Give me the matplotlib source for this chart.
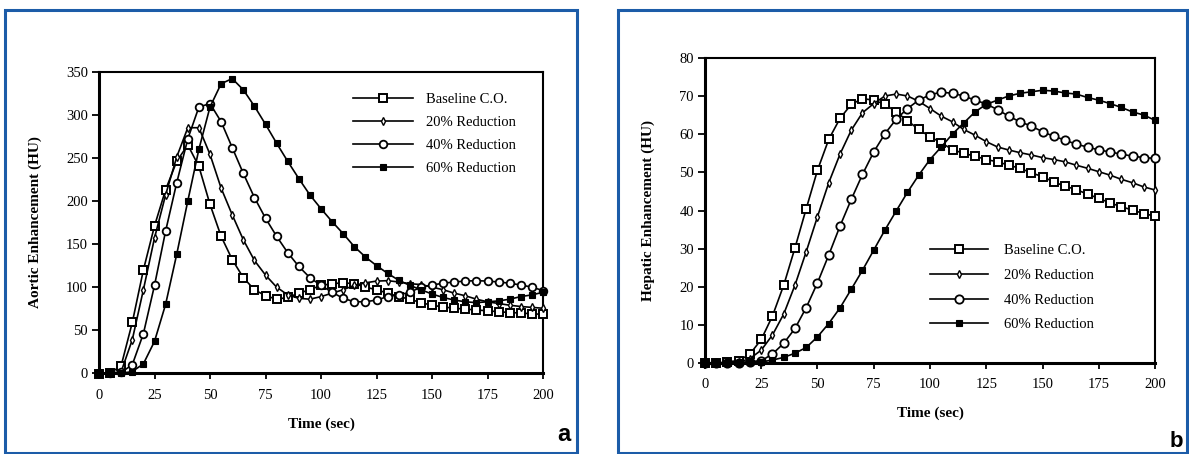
import matplotlib
matplotlib.use("Agg")
import matplotlib.pyplot as plt
from matplotlib.patches import Rectangle

plt.rcParams["font.family"] = ["Liberation Serif", "DejaVu Serif"]

time_sec = list(range(0, 205, 5))

# panel a: aortic enhancement (HU)
aorta_base = [-1, 0, 9, 59, 120, 171, 213, 246, 265, 240, 196, 159, 132, 111, 97, 90, 86, 88,
              93, 97, 102, 104, 105, 104, 100, 97, 93, 89, 86, 82, 79, 77, 75.5, 74.5, 73.5,
              72.5, 71.5, 70.5, 70, 69, 68.5]
aorta_20 = [0, 0, 2, 39, 97, 157, 207, 251, 285, 285, 254, 215, 184, 155, 131, 114, 100, 91,
            87, 86, 89, 93, 97, 102, 105, 107, 107.5, 106, 104, 103, 100, 97, 93, 90, 86, 83,
            81, 79, 77.5, 76.5, 75.5]
aorta_40 = [0, 0, 1, 10, 46, 102, 165, 221, 272, 309, 313, 292, 262, 232, 204, 180, 159, 140,
            124, 111, 102, 94, 87, 83, 83, 85, 89, 91, 94, 100, 102.5, 104.5, 106, 107, 107.5,
            107, 106, 104.5, 102.5, 100, 96]
aorta_60 = [0, 0, 0, 2, 11, 37, 80, 138, 200, 260, 309, 336, 342, 329, 310, 289, 267, 246,
            226, 207, 191, 176, 162, 147, 135, 125, 116, 108, 102, 97, 92, 88, 85, 83, 82, 83,
            84, 86, 89, 91, 94]

# panel b: hepatic enhancement (HU)
liver_base = [-0.2, -0.2, 0.3, 0.5, 2.3, 6.1, 12.3, 20.4, 30.2, 40.5, 50.6, 58.7, 64.2, 67.9,
              69.4, 69, 67.9, 65.9, 63.6, 61.3, 59.4, 57.8, 56.0, 55.0, 54.3, 53.4, 52.8, 51.9,
              51.1, 49.9, 48.9, 47.5, 46.4, 45.5, 44.3, 43.2, 42.0, 41.0, 40.1, 39.2, 38.5]
liver_20 = [-0.2, -0.2, 0, 0.1, 1.1, 3.3, 7.3, 12.8, 20.4, 29.2, 38.4, 47.3, 54.8, 61.1, 65.7,
            68.1, 70.1, 70.6, 70.1, 68.7, 66.8, 64.8, 63.3, 61.3, 59.8, 58.1, 56.7, 55.9, 55.2,
            54.6, 53.9, 53.4, 52.8, 51.9, 51.1, 50.2, 49.3, 48.2, 47.3, 46.2, 45.4]
liver_40 = [-0.2, -0.2, -0.1, 0, 0.3, 0.5, 2.3, 5.1, 9.0, 14.5, 21.0, 28.3, 35.9, 42.9, 49.5,
            55.4, 60.2, 64.0, 66.8, 69.0, 70.4, 71.1, 70.8, 70.1, 69.0, 68.0, 66.5, 64.8, 63.3,
            62.2, 60.7, 59.5, 58.5, 57.4, 56.7, 55.9, 55.4, 54.8, 54.3, 53.9, 53.7]
liver_60 = [-0.2, -0.2, -0.1, 0, 0.1, 0.2, 0.7, 1.4, 2.5, 4.0, 6.8, 10.3, 14.4, 19.3, 24.3,
            29.6, 34.9, 39.9, 44.8, 49.3, 53.4, 56.7, 60.1, 63.0, 65.9, 67.9, 69.0, 70.1, 70.8,
            71.2, 71.6, 71.4, 70.9, 70.6, 69.7, 69.0, 68.1, 67.1, 65.9, 65.1, 63.7]

labels = ["Baseline C.O.", "20% Reduction", "40% Reduction", "60% Reduction"]


def draw_panel(ax, series, ylim, ystep, ylabel, big):
    s = 6 if big else 5.5
    styles = [
        dict(marker="s", ms=s, mfc="white", mew=1.4),
        dict(marker="d", ms=4.2, mfc="white", mew=1.0),
        dict(marker="o", ms=s, mfc="white", mew=1.3),
        dict(marker="s", ms=4.0, mfc="black", mew=0.8),
    ]
    for ys, lab, st in zip(series, labels, styles):
        ax.plot(time_sec, ys, color="black", mec="black", lw=1.2, label=lab,
                clip_on=False, zorder=3, **st)
    ax.set_xlim(0, 200)
    ax.set_ylim(*ylim)
    ax.set_xticks(range(0, 201, 25))
    ax.set_yticks(range(0, ylim[1] + 1, ystep))
    for side in ["top", "right"]:
        ax.spines[side].set_linewidth(1.5)
    for side in ["left", "bottom"]:
        ax.spines[side].set_linewidth(2.2)
    ax.tick_params(axis="y", direction="out", length=5, width=1.3, pad=3, labelsize=10.5)
    ax.tick_params(axis="x", direction="out", length=4, width=1.3, pad=7, labelsize=10.5)
    ax.set_xlabel("Time (sec)", fontsize=11, fontweight="bold")
    ax.set_ylabel(ylabel, fontsize=11, fontweight="bold")


fig = plt.figure(figsize=(11.89, 4.54), dpi=100)

ax1 = fig.add_axes([99 / 1189, 1 - 373.3 / 454, 444 / 1189, 301.6 / 454])
draw_panel(ax1, [aorta_base, aorta_20, aorta_40, aorta_60], (0, 350), 50,
           "Aortic Enhancement (HU)", False)
ax1.xaxis.set_label_coords(0.5, -0.145)
ax1.yaxis.set_label_coords(-0.128, 0.5)
ax1.legend(loc="upper left", bbox_to_anchor=(0.556, 0.955), frameon=False, borderpad=0,
           handlelength=4.1, handletextpad=0.9, labelspacing=0.68, numpoints=1, fontsize=10.5)

ax2 = fig.add_axes([705 / 1189, 1 - 362.7 / 454, 450 / 1189, 304.4 / 454])
draw_panel(ax2, [liver_base, liver_20, liver_40, liver_60], (0, 80), 10,
           "Hepatic Enhancement (HU)", True)
ax2.xaxis.set_label_coords(0.5, -0.145)
ax2.yaxis.set_label_coords(-0.111, 0.5)
ax2.legend(loc="upper left", bbox_to_anchor=(0.484, 0.415), frameon=False, borderpad=0,
           handlelength=4.0, handletextpad=1.1, labelspacing=0.8, numpoints=1, fontsize=10.5)

# blue frames and panel letters
blue = "#1c5ca8"
fig.add_artist(Rectangle((5 / 1189, 1 / 454), 572 / 1189, 443 / 454, transform=fig.transFigure,
                         fill=False, ec=blue, lw=2.2))
fig.add_artist(Rectangle((618 / 1189, 1 / 454), 569 / 1189, 443 / 454, transform=fig.transFigure,
                         fill=False, ec=blue, lw=2.2))
fig.text(571 / 1189, 1 - 441 / 454, "a", ha="right", va="baseline", fontsize=17,
         fontweight="bold", family="Liberation Sans")
fig.text(1183 / 1189, 1 - 447 / 454, "b", ha="right", va="baseline", fontsize=16,
         fontweight="bold", family="Liberation Sans")

fig.savefig("out.png", dpi=100)
